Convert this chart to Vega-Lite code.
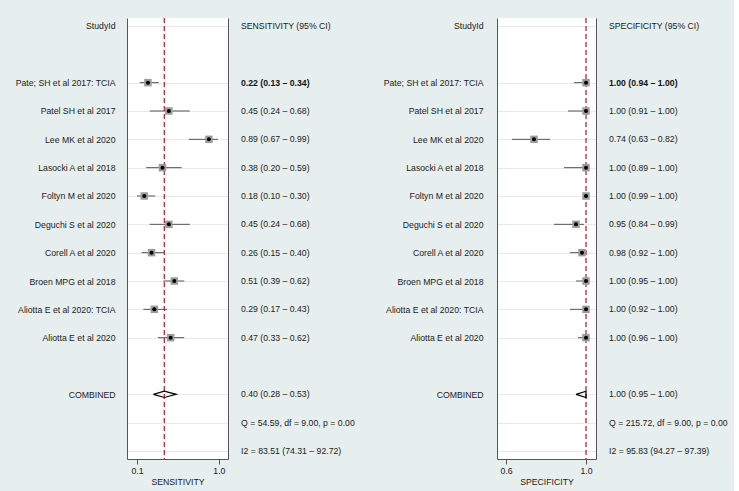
{
  "$schema": "https://vega.github.io/schema/vega-lite/v6.json",
  "background": "#e6eeee",
  "padding": {"left": 15, "top": 17, "right": 4, "bottom": 4},
  "config": {
    "font": "Liberation Sans",
    "view": {"stroke": null, "fill": null},
    "axis": {"labelFont": "Liberation Sans", "titleFont": "Liberation Sans", "labelFontSize": 8.7, "titleFontSize": 8.7, "labelColor": "#222", "titleColor": "#222", "titleFontWeight": "normal"}
  },
  "datasets": {
    "rows": [
      {"panel": "sens", "row": "StudyId", "kind": "header", "ci": "SENSITIVITY (95% CI)"},
      {"panel": "sens", "row": "Pate; SH et al 2017: TCIA", "kind": "study", "est": 0.22, "lo": 0.13, "hi": 0.34, "ci": "0.22 (0.13 – 0.34)"},
      {"panel": "sens", "row": "Patel SH et al 2017", "kind": "study", "est": 0.45, "lo": 0.24, "hi": 0.68, "ci": "0.45 (0.24 – 0.68)"},
      {"panel": "sens", "row": "Lee MK et al 2020", "kind": "study", "est": 0.89, "lo": 0.67, "hi": 0.99, "ci": "0.89 (0.67 – 0.99)"},
      {"panel": "sens", "row": "Lasocki A et al 2018", "kind": "study", "est": 0.38, "lo": 0.20, "hi": 0.59, "ci": "0.38 (0.20 – 0.59)"},
      {"panel": "sens", "row": "Foltyn M et al 2020", "kind": "study", "est": 0.18, "lo": 0.10, "hi": 0.30, "ci": "0.18 (0.10 – 0.30)"},
      {"panel": "sens", "row": "Deguchi S et al 2020", "kind": "study", "est": 0.45, "lo": 0.24, "hi": 0.68, "ci": "0.45 (0.24 – 0.68)"},
      {"panel": "sens", "row": "Corell A et al 2020", "kind": "study", "est": 0.26, "lo": 0.15, "hi": 0.40, "ci": "0.26 (0.15 – 0.40)"},
      {"panel": "sens", "row": "Broen MPG et al 2018", "kind": "study", "est": 0.51, "lo": 0.39, "hi": 0.62, "ci": "0.51 (0.39 – 0.62)"},
      {"panel": "sens", "row": "Aliotta E et al 2020: TCIA", "kind": "study", "est": 0.29, "lo": 0.17, "hi": 0.43, "ci": "0.29 (0.17 – 0.43)"},
      {"panel": "sens", "row": "Aliotta E et al 2020", "kind": "study", "est": 0.47, "lo": 0.33, "hi": 0.62, "ci": "0.47 (0.33 – 0.62)"},
      {"panel": "sens", "row": "COMBINED", "kind": "combined", "est": 0.40, "lo": 0.28, "hi": 0.53, "ci": "0.40 (0.28 – 0.53)"},
      {"panel": "sens", "row": "Q", "kind": "stat", "ci": "Q = 54.59, df = 9.00, p = 0.00"},
      {"panel": "sens", "row": "I2", "kind": "stat", "ci": "I2 = 83.51 (74.31 – 92.72)"},
      {"panel": "spec", "row": "StudyId", "kind": "header", "ci": "SPECIFICITY (95% CI)"},
      {"panel": "spec", "row": "Pate; SH et al 2017: TCIA", "kind": "study", "est": 1.00, "lo": 0.94, "hi": 1.00, "ci": "1.00 (0.94 – 1.00)"},
      {"panel": "spec", "row": "Patel SH et al 2017", "kind": "study", "est": 1.00, "lo": 0.91, "hi": 1.00, "ci": "1.00 (0.91 – 1.00)"},
      {"panel": "spec", "row": "Lee MK et al 2020", "kind": "study", "est": 0.74, "lo": 0.63, "hi": 0.82, "ci": "0.74 (0.63 – 0.82)"},
      {"panel": "spec", "row": "Lasocki A et al 2018", "kind": "study", "est": 1.00, "lo": 0.89, "hi": 1.00, "ci": "1.00 (0.89 – 1.00)"},
      {"panel": "spec", "row": "Foltyn M et al 2020", "kind": "study", "est": 1.00, "lo": 0.99, "hi": 1.00, "ci": "1.00 (0.99 – 1.00)"},
      {"panel": "spec", "row": "Deguchi S et al 2020", "kind": "study", "est": 0.95, "lo": 0.84, "hi": 0.99, "ci": "0.95 (0.84 – 0.99)"},
      {"panel": "spec", "row": "Corell A et al 2020", "kind": "study", "est": 0.98, "lo": 0.92, "hi": 1.00, "ci": "0.98 (0.92 – 1.00)"},
      {"panel": "spec", "row": "Broen MPG et al 2018", "kind": "study", "est": 1.00, "lo": 0.95, "hi": 1.00, "ci": "1.00 (0.95 – 1.00)"},
      {"panel": "spec", "row": "Aliotta E et al 2020: TCIA", "kind": "study", "est": 1.00, "lo": 0.92, "hi": 1.00, "ci": "1.00 (0.92 – 1.00)"},
      {"panel": "spec", "row": "Aliotta E et al 2020", "kind": "study", "est": 1.00, "lo": 0.96, "hi": 1.00, "ci": "1.00 (0.96 – 1.00)"},
      {"panel": "spec", "row": "COMBINED", "kind": "combined", "est": 1.00, "lo": 0.95, "hi": 1.00, "ci": "1.00 (0.95 – 1.00)"},
      {"panel": "spec", "row": "Q", "kind": "stat", "ci": "Q = 215.72, df = 9.00, p =  0.00"},
      {"panel": "spec", "row": "I2", "kind": "stat", "ci": "I2 = 95.83 (94.27 – 97.39)"}
    ],
    "diamond": [
      {"panel": "sens", "row": "COMBINED", "vertex": 1, "value": 0.28, "pos": "mid"},
      {"panel": "sens", "row": "COMBINED", "vertex": 2, "value": 0.40, "pos": "top"},
      {"panel": "sens", "row": "COMBINED", "vertex": 3, "value": 0.53, "pos": "mid"},
      {"panel": "sens", "row": "COMBINED", "vertex": 4, "value": 0.40, "pos": "bot"},
      {"panel": "sens", "row": "COMBINED", "vertex": 5, "value": 0.28, "pos": "mid"},
      {"panel": "spec", "row": "COMBINED", "vertex": 1, "value": 0.95, "pos": "mid"},
      {"panel": "spec", "row": "COMBINED", "vertex": 2, "value": 1.00, "pos": "top"},
      {"panel": "spec", "row": "COMBINED", "vertex": 3, "value": 1.00, "pos": "mid"},
      {"panel": "spec", "row": "COMBINED", "vertex": 4, "value": 1.00, "pos": "bot"},
      {"panel": "spec", "row": "COMBINED", "vertex": 5, "value": 0.95, "pos": "mid"}
    ]
  },
  "hconcat": [
    {
      "width": 101, "height": 441,
      "view": {"fill": "white", "stroke": null},
      "layer": [
        {
          "data": {"name": "rows"},
          "transform": [{"filter": "datum.panel == 'sens' && datum.kind == 'combined'"}],
          "mark": {"type": "rule", "color": "#c1272d", "strokeDash": [5, 3], "strokeWidth": 1.3},
          "encoding": {
            "x": {"field": "est", "type": "quantitative", "scale": {"domain": [-0.01, 1.1], "nice": false, "zero": false},
              "axis": {"values": [0.1, 1.0], "format": ".1f", "title": "SENSITIVITY", "grid": false, "tickSize": 5, "tickColor": "#555", "domainColor": "#555", "labelPadding": 2, "titlePadding": 3}}
          }
        },
        {
          "data": {"name": "rows"},
          "transform": [{"filter": "datum.panel == 'sens' && datum.kind == 'study'"}],
          "mark": {"type": "rule", "color": "#555", "strokeWidth": 1},
          "encoding": {
            "x": {"field": "lo", "type": "quantitative"},
            "x2": {"field": "hi"},
            "y": {"field": "row", "type": "nominal", "sort": null,
              "scale": {"type": "point", "padding": 0.282, "domain": ["StudyId", " ", "Pate; SH et al 2017: TCIA", "Patel SH et al 2017", "Lee MK et al 2020", "Lasocki A et al 2018", "Foltyn M et al 2020", "Deguchi S et al 2020", "Corell A et al 2020", "Broen MPG et al 2018", "Aliotta E et al 2020: TCIA", "Aliotta E et al 2020", "  ", "COMBINED", "Q", "I2"]},
              "axis": {"orient": "left", "title": null, "ticks": false, "labelPadding": 12, "domainColor": "#555", "labelExpr": "indexof(['Q', 'I2', ' ', '  '], datum.value) >= 0 ? '' : datum.value", "grid": true, "gridColor": {"condition": {"test": "indexof([' ', '  '], datum.value) >= 0", "value": "#ffffff"}, "value": "#e9e9e9"}}}
          }
        },
        {
          "data": {"name": "rows"},
          "transform": [{"filter": "datum.panel == 'sens' && datum.kind == 'study'"}],
          "mark": {"type": "point", "shape": "square", "filled": true, "color": "#9c9c9c", "size": 56, "opacity": 1},
          "encoding": {
            "x": {"field": "est", "type": "quantitative"},
            "y": {"field": "row", "type": "nominal", "sort": null,
              "axis": {"orient": "right", "title": null, "labels": false, "ticks": false, "grid": false, "domainColor": "#555"}}
          }
        },
        {
          "data": {"name": "rows"},
          "transform": [{"filter": "datum.panel == 'sens' && datum.kind == 'study'"}],
          "mark": {"type": "point", "shape": "circle", "filled": true, "color": "#000", "size": 16, "opacity": 1},
          "encoding": {
            "x": {"field": "est", "type": "quantitative"},
            "y": {"field": "row", "type": "nominal", "sort": null, "axis": null}
          }
        },
        {
          "data": {"name": "diamond"},
          "transform": [{"filter": "datum.panel == 'sens'"}],
          "mark": {"type": "line", "color": "#000", "strokeWidth": 1.2},
          "encoding": {
            "x": {"field": "value", "type": "quantitative"},
            "y": {"field": "row", "type": "nominal", "sort": null, "axis": null},
            "yOffset": {"field": "pos", "type": "nominal", "scale": {"type": "point", "domain": ["top", "mid", "bot"], "range": [-4.7, 4.7]}},
            "order": {"field": "vertex", "type": "quantitative"}
          }
        }
      ],
      "resolve": {"axis": {"y": "independent"}}
    },
    {
      "width": 129, "height": 441,
      "data": {"name": "rows"},
      "transform": [{"filter": "datum.panel == 'sens'"}],
      "encoding": {
        "y": {"field": "row", "type": "nominal", "sort": null, "axis": null,
          "scale": {"type": "point", "padding": 0.282, "domain": ["StudyId", " ", "Pate; SH et al 2017: TCIA", "Patel SH et al 2017", "Lee MK et al 2020", "Lasocki A et al 2018", "Foltyn M et al 2020", "Deguchi S et al 2020", "Corell A et al 2020", "Broen MPG et al 2018", "Aliotta E et al 2020: TCIA", "Aliotta E et al 2020", "  ", "COMBINED", "Q", "I2"]}},
        "x": {"value": 0},
        "text": {"field": "ci"}
      },
      "layer": [
        {"transform": [{"filter": "datum.row != 'Pate; SH et al 2017: TCIA'"}],
         "mark": {"type": "text", "align": "left", "baseline": "middle", "font": "Liberation Sans", "fontSize": 8.7, "color": "#222"}},
        {"transform": [{"filter": "datum.row == 'Pate; SH et al 2017: TCIA'"}],
         "mark": {"type": "text", "align": "left", "baseline": "middle", "font": "Liberation Sans", "fontSize": 8.7, "fontWeight": "bold", "color": "#111"}}
      ]
    },
    {
      "width": 99, "height": 441,
      "view": {"fill": "white", "stroke": null},
      "layer": [
        {
          "data": {"name": "rows"},
          "transform": [{"filter": "datum.panel == 'spec' && datum.kind == 'combined'"}],
          "mark": {"type": "rule", "color": "#c1272d", "strokeDash": [5, 3], "strokeWidth": 1.3},
          "encoding": {
            "x": {"field": "est", "type": "quantitative", "scale": {"domain": [0.555, 1.05], "nice": false, "zero": false},
              "axis": {"values": [0.6, 1.0], "format": ".1f", "title": "SPECIFICITY", "grid": false, "tickSize": 5, "tickColor": "#555", "domainColor": "#555", "labelPadding": 2, "titlePadding": 3}}
          }
        },
        {
          "data": {"name": "rows"},
          "transform": [{"filter": "datum.panel == 'spec' && datum.kind == 'study'"}],
          "mark": {"type": "rule", "color": "#555", "strokeWidth": 1},
          "encoding": {
            "x": {"field": "lo", "type": "quantitative"},
            "x2": {"field": "hi"},
            "y": {"field": "row", "type": "nominal", "sort": null,
              "scale": {"type": "point", "padding": 0.282, "domain": ["StudyId", " ", "Pate; SH et al 2017: TCIA", "Patel SH et al 2017", "Lee MK et al 2020", "Lasocki A et al 2018", "Foltyn M et al 2020", "Deguchi S et al 2020", "Corell A et al 2020", "Broen MPG et al 2018", "Aliotta E et al 2020: TCIA", "Aliotta E et al 2020", "  ", "COMBINED", "Q", "I2"]},
              "axis": {"orient": "left", "title": null, "ticks": false, "labelPadding": 14, "domainColor": "#555", "labelExpr": "indexof(['Q', 'I2', ' ', '  '], datum.value) >= 0 ? '' : datum.value", "grid": true, "gridColor": {"condition": {"test": "indexof([' ', '  '], datum.value) >= 0", "value": "#ffffff"}, "value": "#e9e9e9"}}}
          }
        },
        {
          "data": {"name": "rows"},
          "transform": [{"filter": "datum.panel == 'spec' && datum.kind == 'study'"}],
          "mark": {"type": "point", "shape": "square", "filled": true, "color": "#9c9c9c", "size": 56, "opacity": 1},
          "encoding": {
            "x": {"field": "est", "type": "quantitative"},
            "y": {"field": "row", "type": "nominal", "sort": null,
              "axis": {"orient": "right", "title": null, "labels": false, "ticks": false, "grid": false, "domainColor": "#555"}}
          }
        },
        {
          "data": {"name": "rows"},
          "transform": [{"filter": "datum.panel == 'spec' && datum.kind == 'study'"}],
          "mark": {"type": "point", "shape": "circle", "filled": true, "color": "#000", "size": 16, "opacity": 1},
          "encoding": {
            "x": {"field": "est", "type": "quantitative"},
            "y": {"field": "row", "type": "nominal", "sort": null, "axis": null}
          }
        },
        {
          "data": {"name": "diamond"},
          "transform": [{"filter": "datum.panel == 'spec'"}],
          "mark": {"type": "line", "color": "#000", "strokeWidth": 1.2},
          "encoding": {
            "x": {"field": "value", "type": "quantitative"},
            "y": {"field": "row", "type": "nominal", "sort": null, "axis": null},
            "yOffset": {"field": "pos", "type": "nominal", "scale": {"type": "point", "domain": ["top", "mid", "bot"], "range": [-4.7, 4.7]}},
            "order": {"field": "vertex", "type": "quantitative"}
          }
        }
      ],
      "resolve": {"axis": {"y": "independent"}}
    },
    {
      "width": 120, "height": 441,
      "data": {"name": "rows"},
      "transform": [{"filter": "datum.panel == 'spec'"}],
      "encoding": {
        "y": {"field": "row", "type": "nominal", "sort": null, "axis": null,
          "scale": {"type": "point", "padding": 0.282, "domain": ["StudyId", " ", "Pate; SH et al 2017: TCIA", "Patel SH et al 2017", "Lee MK et al 2020", "Lasocki A et al 2018", "Foltyn M et al 2020", "Deguchi S et al 2020", "Corell A et al 2020", "Broen MPG et al 2018", "Aliotta E et al 2020: TCIA", "Aliotta E et al 2020", "  ", "COMBINED", "Q", "I2"]}},
        "x": {"value": 0},
        "text": {"field": "ci"}
      },
      "layer": [
        {"transform": [{"filter": "datum.row != 'Pate; SH et al 2017: TCIA'"}],
         "mark": {"type": "text", "align": "left", "baseline": "middle", "font": "Liberation Sans", "fontSize": 8.7, "color": "#222"}},
        {"transform": [{"filter": "datum.row == 'Pate; SH et al 2017: TCIA'"}],
         "mark": {"type": "text", "align": "left", "baseline": "middle", "font": "Liberation Sans", "fontSize": 8.7, "fontWeight": "bold", "color": "#111"}}
      ]
    }
  ],
  "spacing": 13,
  "resolve": {"scale": {"x": "independent", "y": "independent"}}
}
